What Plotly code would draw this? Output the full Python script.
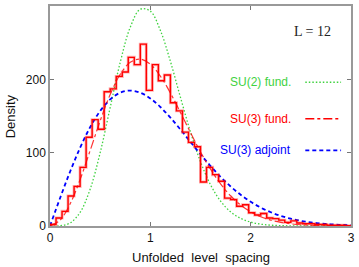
import plotly.graph_objects as go

# ---- data ----
bin_width = 0.06
hist_counts = [2, 11, 20, 41, 54, 80, 121, 145, 132, 183,
               187, 204, 210, 230, 220, 248, 185, 220, 198, 206,
               168, 157, 128, 114, 108, 60, 80, 70, 61, 38,
               36, 27, 29, 18, 15, 17, 11, 10, 8, 5,
               7, 4, 3, 3, 2, 2, 1, 1, 1, 0.5]

s_grid = [round(0.1 * i, 1) for i in range(31)]
su2_fund = [0, 0.28, 4.1, 18.6, 50.2, 100.0, 161.7, 223.2, 271.1, 295.6,
            293.0, 266.7, 224.5, 175.5, 128.2, 87.6, 56.2, 33.9, 19.3, 10.4,
            5.3, 2.5, 1.15, 0.5, 0.2, 0.08, 0.03, 0.01, 0, 0, 0]
su3_fund = [0, 7.8, 30.0, 63.2, 102.8, 143.3, 179.3, 206.9, 223.2, 227.5,
            220.6, 204.3, 181.4, 154.8, 127.4, 101.0, 77.5, 57.5, 41.2, 28.7,
            19.4, 12.7, 8.0, 5.0, 3.0, 1.7, 1.0, 0.5, 0.3, 0.15, 0.07]
su3_adj = [0, 37.9, 74.0, 106.7, 134.7, 156.8, 172.6, 181.8, 184.7, 181.8,
           174.0, 162.3, 147.8, 131.6, 114.6, 97.8, 81.8, 67.1, 53.9, 42.6,
           33.0, 25.1, 18.8, 13.8, 9.9, 7.0, 4.9, 3.4, 2.3, 1.5, 1.0]

x_ticks = [0, 1, 2, 3]
y_ticks = [0, 100, 200, 300]

GREEN = "#3fd23f"
RED = "#ff0000"
BLUE = "#0000ff"
BLUE_DASH = "4px,3px"
GREEN_DOT = "1.5px,2px"

edges = [round(i * bin_width, 2) for i in range(len(hist_counts) + 1)]
hist_y = hist_counts + [hist_counts[-1]]

fig = go.Figure()
fig.add_trace(go.Scatter(x=s_grid, y=su2_fund, mode="lines",
                         line=dict(color=GREEN, width=1.3, dash=GREEN_DOT, shape="spline"),
                         showlegend=False))
fig.add_trace(go.Scatter(x=s_grid, y=su3_adj, mode="lines",
                         line=dict(color=BLUE, width=1.8, dash=BLUE_DASH, shape="spline"),
                         showlegend=False))
fig.add_trace(go.Scatter(x=edges, y=hist_y, mode="lines",
                         line=dict(color="rgba(255,0,0,0.3)", width=3, shape="hv"),
                         showlegend=False))
fig.add_trace(go.Scatter(x=edges, y=hist_y, mode="lines",
                         line=dict(color=RED, width=1.4, shape="hv"),
                         showlegend=False))
fig.add_trace(go.Scatter(x=s_grid, y=su3_fund, mode="lines",
                         line=dict(color="rgba(255,0,0,0.8)", width=1.2, dash="dashdot", shape="spline"),
                         showlegend=False))

L, R, T, B = 50, 6, 4, 41
W, H = 359, 267
pw, ph = W - L - R, H - T - B

def px(x):
    return (x - L) / pw

def py(y):
    return (H - B - y) / ph

legend_items = [("SU(2) fund.", GREEN, GREEN_DOT, 81),
                ("SU(3) fund.", RED, "dashdot", 117.7),
                ("SU(3) adjoint", BLUE, BLUE_DASH, 149.7)]
annotations = []
shapes = []
for name, col, dash, yy in legend_items:
    annotations.append(dict(x=px(295), y=py(yy), xref="paper", yref="paper",
                            text=name, showarrow=False, xanchor="right", yanchor="middle",
                            font=dict(family="Liberation Sans", size=12, color=col)))
    shapes.append(dict(type="line", xref="paper", yref="paper",
                       x0=px(307), x1=px(343), y0=py(yy), y1=py(yy),
                       line=dict(color=col, width=1.6, dash=dash)))

annotations.append(dict(x=px(314.5), y=py(30), xref="paper", yref="paper",
                        text="L = 12", showarrow=False, xanchor="center", yanchor="middle",
                        font=dict(family="Liberation Serif", size=14, color="#222")))
annotations.append(dict(x=0.5, y=py(258), xref="paper", yref="paper",
                        text="Unfolded  level  spacing", showarrow=False,
                        xanchor="center", yanchor="middle",
                        font=dict(family="Liberation Sans", size=13, color="#111")))
annotations.append(dict(x=px(10), y=0.5, xref="paper", yref="paper",
                        text="Density", showarrow=False, textangle=-90,
                        xanchor="center", yanchor="middle",
                        font=dict(family="Liberation Sans", size=13, color="#111")))

fig.update_layout(
    width=W, height=H,
    margin=dict(l=L, r=R, t=T, b=B),
    paper_bgcolor="white", plot_bgcolor="white",
    annotations=annotations, shapes=shapes,
    font=dict(family="Liberation Sans", size=12, color="#111"),
)
fig.update_xaxes(range=[0, 3], tickvals=x_ticks, ticktext=[str(v) for v in x_ticks],
                 showgrid=False, zeroline=False, showline=True, linecolor="#999",
                 linewidth=1.5, mirror="ticks", ticks="inside", ticklen=4, tickcolor="#777",
                 tickfont=dict(size=12, color="#111"))
fig.update_yaxes(range=[0, 300], tickvals=y_ticks, ticktext=[str(v) for v in y_ticks],
                 showgrid=False, zeroline=False, showline=True, linecolor="#999",
                 linewidth=1.5, mirror="ticks", ticks="inside", ticklen=4, tickcolor="#777",
                 tickfont=dict(size=12, color="#111"))

fig.write_html("out.html", config={"displayModeBar": False},
               post_script="document.body.style.margin='0';document.body.style.overflow='hidden';")
